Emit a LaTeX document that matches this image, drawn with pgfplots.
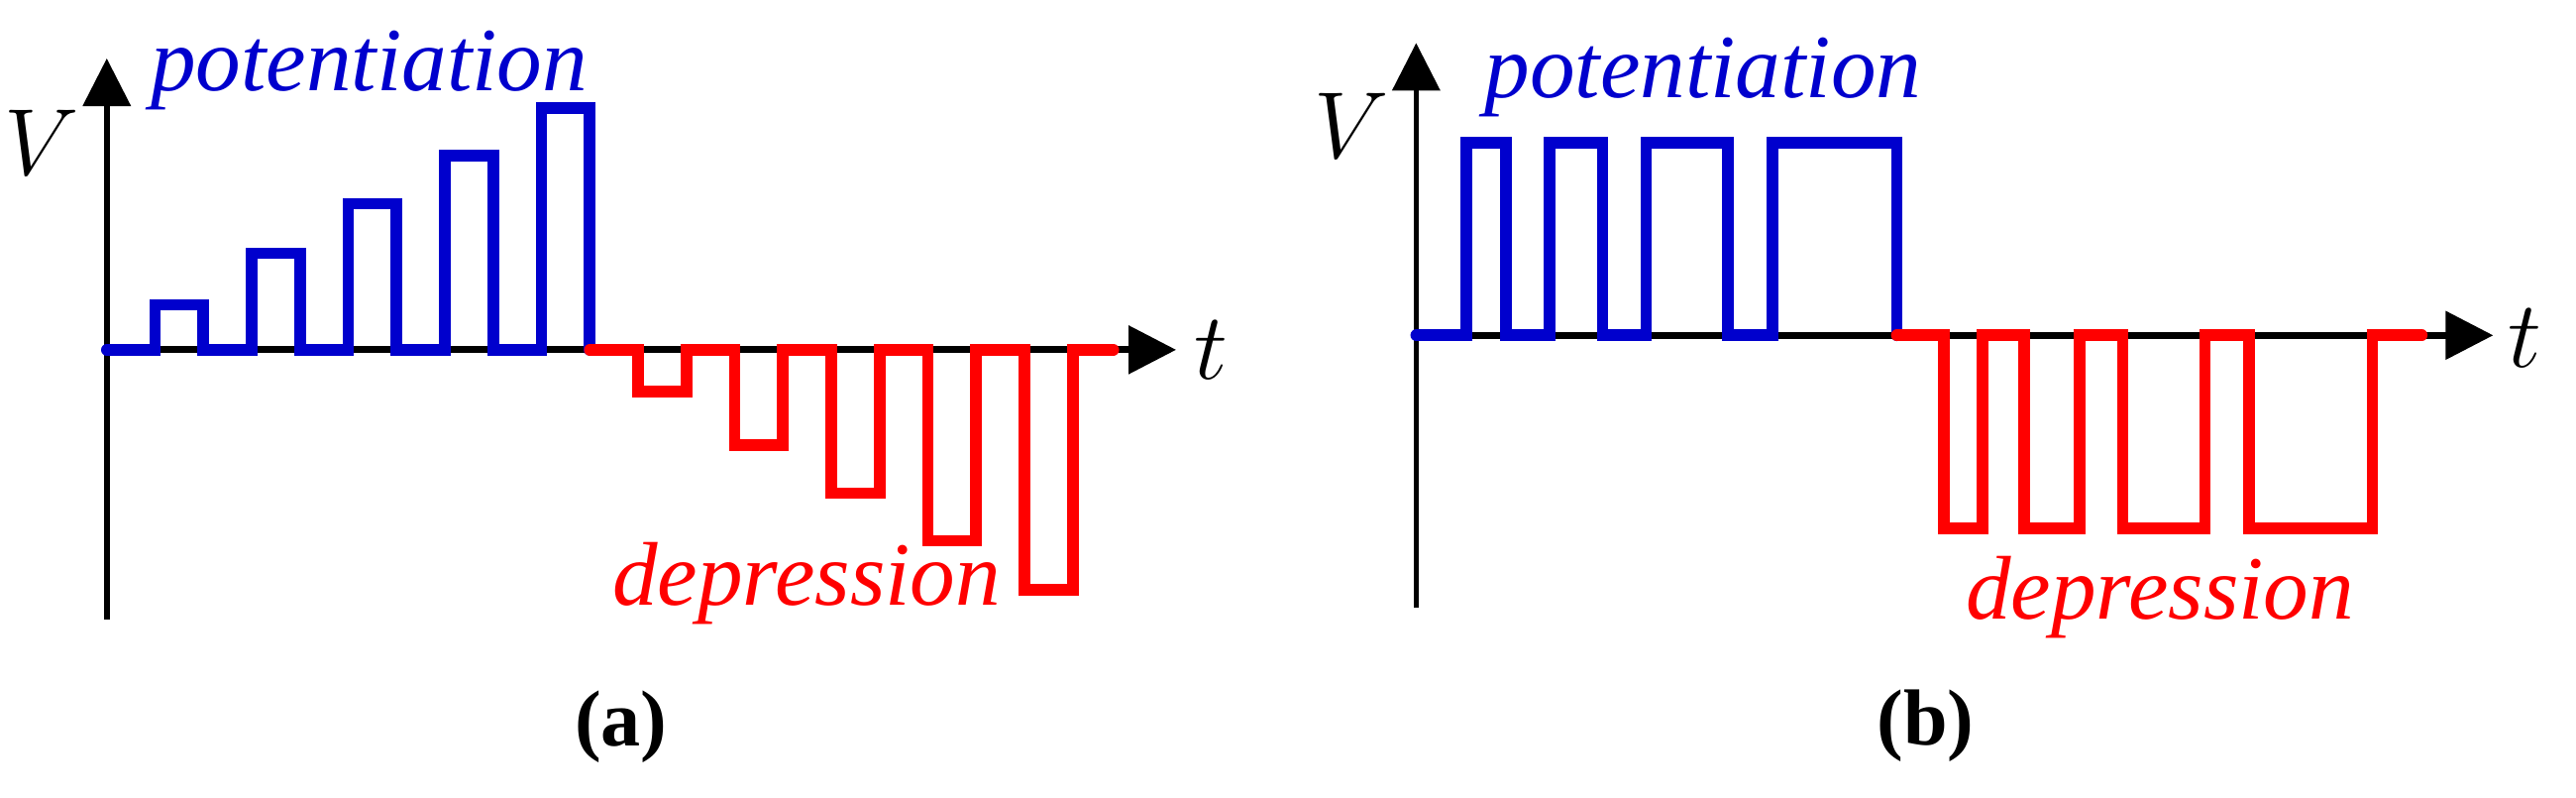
\documentclass[border=0pt]{standalone}
\usepackage{pgfplots}
\pgfplotsset{compat=1.18}
\usepackage{fontspec}
\setmainfont{Liberation Serif}
\usetikzlibrary{arrows.meta}
\definecolor{pblue}{RGB}{0,0,205}
\definecolor{dred}{RGB}{255,0,0}

\pgfplotsset{pulse/.style={
  axis lines=middle, x=8.82pt, y=8.82pt, xmin=0, clip=false,
  xtick=\empty, ytick=\empty,
  x axis line style={line width=1.3pt, -{Triangle[length=8.7pt,width=8.6pt]}},
  y axis line style={line width=1.0pt, -{Triangle[length=8.7pt,width=8.6pt]}},
  anchor=origin,
}}
\tikzset{
  pot/.style={line width=2.1pt, color=pblue, line cap=round, mark=none},
  dep/.style={line width=2.1pt, color=dred, line cap=round, mark=none},
  lab/.style={anchor=base, font=\fontsize{16.5}{18}\selectfont\itshape},
  axlab/.style={font=\fontsize{17}{18}\selectfont},
}

\begin{document}
\begin{tikzpicture}
\path[use as bounding box] (0,0) rectangle (470.4pt,145.5pt);

% ---------------- (a) ----------------
\begin{axis}[pulse, at={(19.5pt,81.66pt)}, xmax=22.14, ymin=-5.58, ymax=6.03]
\addplot[pot] coordinates {
 (0,0) (1,0) (1,0.93) (2,0.93) (2,0) (3,0) (3,2) (4,2) (4,0) (5,0) (5,3.02) (6,3.02) (6,0)
 (7,0) (7,4.02) (8,4.02) (8,0) (9,0) (9,5) (10,5) (10,0)};
\addplot[dep] coordinates {
 (10,0) (11,0) (11,-0.86) (12,-0.86) (12,0) (13,0) (13,-1.97) (14,-1.97) (14,0)
 (15,0) (15,-2.97) (16,-2.97) (16,0) (17,0) (17,-3.95) (18,-3.95) (18,0)
 (19,0) (19,-4.97) (20,-4.97) (20,0) (20.84,0)};
\node[lab, text=pblue] at (axis cs:5.43,5.36) {potentiation};
\node[lab, text=dred] at (axis cs:14.49,-5.28) {depression};
\node[axlab] at (axis cs:-1.34,4.28) {$V$};
\node[axlab] at (axis cs:22.86,0.0) {$t$};
\end{axis}

% ---------------- (b) ----------------
\begin{axis}[pulse, at={(258.6pt,84.3pt)}, xmax=22.3, ymin=-5.63, ymax=6.05]
\addplot[pot] coordinates {
 (0,0) (1.04,0) (1.04,3.98) (1.86,3.98) (1.86,0) (2.76,0) (2.76,3.98) (3.86,3.98) (3.86,0)
 (4.76,0) (4.76,3.98) (6.45,3.98) (6.45,0) (7.38,0) (7.38,3.98) (9.95,3.98) (9.95,0)};
\addplot[dep] coordinates {
 (9.95,0) (10.92,0) (10.92,-4) (11.73,-4) (11.73,0) (12.59,0) (12.59,-4) (13.74,-4) (13.74,0)
 (14.63,0) (14.63,-4) (16.33,-4) (16.33,0) (17.24,0) (17.24,-4) (19.80,-4) (19.80,0) (20.82,0)};
\node[lab, text=pblue] at (axis cs:5.94,4.91) {potentiation};
\node[lab, text=dred] at (axis cs:15.4,-5.87) {depression};
\node[axlab] at (axis cs:-1.34,4.34) {$V$};
\node[axlab] at (axis cs:22.96,-0.05) {$t$};
\end{axis}

\node[anchor=base, font=\fontsize{14.5}{16}\selectfont\bfseries] at (113.4pt,9.3pt) {(a)};
\node[anchor=base, font=\fontsize{14.5}{16}\selectfont\bfseries] at (351.6pt,9.5pt) {(b)};
\end{tikzpicture}
\end{document}
